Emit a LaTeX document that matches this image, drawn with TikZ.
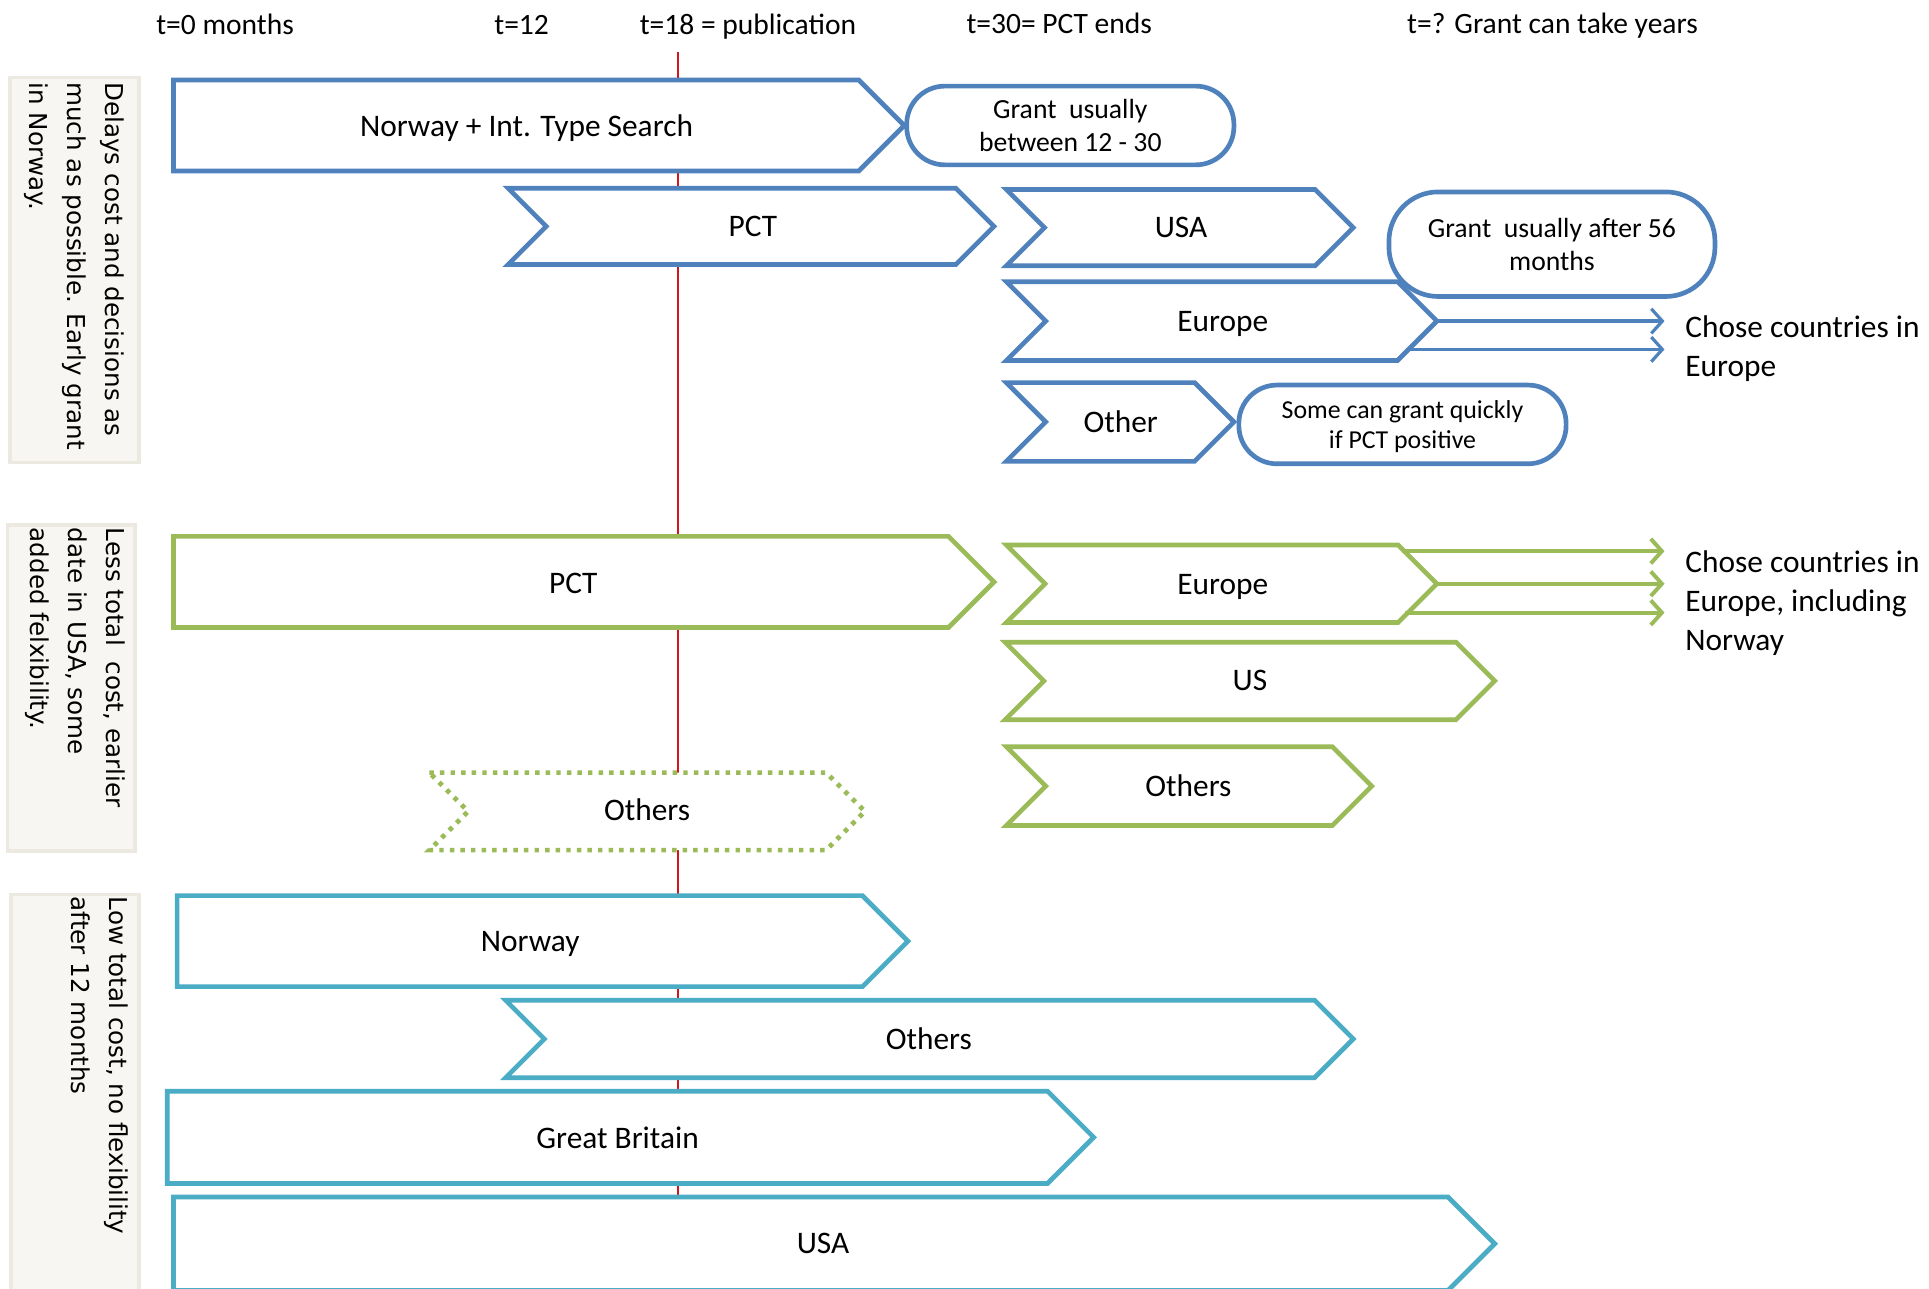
\documentclass[tikz,border=0pt]{standalone}
\usepackage{fontspec}
\setmainfont{Carlito}
\newfontfamily\sidefont{DejaVu Sans}
\usetikzlibrary{arrows.meta}

\definecolor{pblue}{HTML}{4F81BD}
\definecolor{pgreen}{HTML}{9BBB59}
\definecolor{pteal}{HTML}{4BACC6}
\definecolor{pred}{HTML}{D0161E}
\definecolor{notefill}{HTML}{F7F6F2}
\definecolor{noteline}{HTML}{ECEAE0}

% pentagon arrow: style, left x, tip x, top y, bottom y
\newcommand{\homeplatepath}[5]{%
  \draw[#1] (#2,#4) -- ({#3-(#5-#4)/2},#4) -- (#3,{(#4+#5)/2})
    -- ({#3-(#5-#4)/2},#5) -- (#2,#5) -- cycle;}
% chevron: style, left x, tip x, top y, bottom y
\newcommand{\chevronpath}[5]{%
  \draw[#1] (#2,#4) -- ({#3-(#5-#4)/2},#4) -- (#3,{(#4+#5)/2})
    -- ({#3-(#5-#4)/2},#5) -- (#2,#5) -- ({#2+(#5-#4)/2},{(#4+#5)/2}) -- cycle;}

\begin{document}
\begin{tikzpicture}[x=1pt,y=-1pt,
  every node/.style={inner sep=0pt, outer sep=0pt},
  hdr/.style={font=\fontsize{24}{29}\selectfont, anchor=base},
  boxtxt/.style={font=\fontsize{25.5}{31}\selectfont, text height=16.4pt, text depth=0pt, anchor=center},
  shp/.style={line width=3.8pt, fill=white},
  blueshape/.style={shp, draw=pblue},
  greenshape/.style={shp, draw=pgreen},
  tealshape/.style={shp, draw=pteal},
  dottedshape/.style={line width=3.8pt, draw=pgreen, fill=white, dash pattern=on 3.6pt off 5pt},
  grant/.style={draw=pblue, line width=3.8pt, fill=white, align=center, text depth=0pt,
    font=\fontsize{22.5}{27}\selectfont},
  note/.style={fill=notefill, draw=noteline, line width=3pt},
  notetxt/.style={font=\sidefont\fontsize{20}{31}\selectfont, rotate=-90, anchor=north west, align=left},
  side/.style={font=\fontsize{25.5}{31.5}\selectfont, align=left, anchor=north west},
  barrow/.style={draw=pblue, line width=2.6pt, -{Straight Barb[length=9pt,width=20pt]}},
  garrow/.style={draw=pgreen, line width=3.2pt, -{Straight Barb[length=9pt,width=20pt]}},
]
\useasboundingbox (0,0) rectangle (1568,1047);

% strategy notes on the left
\draw[note] (8,63) rectangle (113,376);
\draw[note] (6,427) rectangle (110,692);
\draw[note] (9,727) rectangle (113,1060);
\node[notetxt] (note-a) at (101,67) {Delays cost and decisions as\\much as possible. Early grant\\in Norway.};
\node[notetxt] (note-b) at (102,429) {Less total\ \ cost, earlier\\date in USA, some\\added felxibility.};
\node[notetxt] (note-c) at (104,729) {Low total cost, no flexibility\\after 12 months};

% time axis labels
\node[hdr] (h0) at (183,28) {t=0 months};
\node[hdr] (h12) at (424,28) {t=12};
\node[hdr] (h18) at (608,28) {t=18 = publication};
\node[hdr] (h30) at (861,27) {t=30= PCT ends};
\node[hdr] (hx) at (1262,27) {t=? Grant can take years};

% publication line
\coordinate (pub-top) at (551,42);
\coordinate (pub-bot) at (551,973);
\draw[pred, line width=1.3pt] (pub-top) -- (pub-bot);

% ---------- route 1 (blue) ----------
\homeplatepath{blueshape}{141}{735}{65}{139}
\node[boxtxt] (b-nis) at (428,103) {Norway + Int. Type Search};
\node[grant, minimum width=266pt, minimum height=64pt, rounded corners=31pt] (b-g1) at (870,102)
  {Grant\ \ usually\\between 12 - 30};
\chevronpath{blueshape}{413}{808}{153}{215}
\node[boxtxt] (b-pct) at (612,184) {PCT};
\chevronpath{blueshape}{818}{1100}{154}{216}
\node[boxtxt] (b-usa) at (960,185) {USA};
\chevronpath{blueshape}{818}{1168}{229}{293}
\node[boxtxt] (b-eu) at (994,261) {Europe};
\node[grant, minimum width=265pt, minimum height=85pt, rounded corners=40pt] (b-g2) at (1261.5,198.5)
  {Grant\ \ usually after 56\\months};
\chevronpath{blueshape}{818}{1003}{311}{375}
\node[boxtxt] (b-oth) at (911,343) {Other};
\node[grant, minimum width=266pt, minimum height=64pt, rounded corners=31pt,
  font=\fontsize{21}{25}\selectfont] (b-g3) at (1140,345)
  {Some can grant quickly\\if PCT positive};

\coordinate (b-eu-tip) at (1168,261);
\coordinate (b-eu-low) at (1143,284);
\coordinate (b-end1) at (1353,261);
\coordinate (b-end2) at (1353,284);
\draw[barrow] (b-eu-tip) -- (b-end1);
\draw[barrow] (b-eu-low) -- (b-end2);
\node[side] (b-lab) at (1370,257) {Chose countries in\\Europe};

% ---------- route 2 (green) ----------
\homeplatepath{greenshape}{141}{808}{436}{510}
\node[boxtxt] (g-pct) at (466,474) {PCT};
\chevronpath{greenshape}{818}{1168}{443}{506}
\node[boxtxt] (g-eu) at (994,475) {Europe};
\chevronpath{greenshape}{817}{1215}{522}{585}
\node[boxtxt] (g-us) at (1016,553) {US};
\chevronpath{greenshape}{818}{1115}{607}{671}
\node[boxtxt] (g-oth) at (966,639) {Others};
\chevronpath{dottedshape}{349}{703}{628}{691}
\node[boxtxt] (g-oth2) at (526,659) {Others};

\coordinate (g-eu-up) at (1140,448);
\coordinate (g-eu-tip) at (1168,474.5);
\coordinate (g-eu-low) at (1142,498);
\coordinate (g-end1) at (1353,448);
\coordinate (g-end2) at (1353,474.5);
\coordinate (g-end3) at (1353,498);
\draw[garrow] (g-eu-up) -- (g-end1);
\draw[garrow] (g-eu-tip) -- (g-end2);
\draw[garrow] (g-eu-low) -- (g-end3);
\node[side] (g-lab) at (1370,448) {Chose countries in\\Europe, including\\Norway};

% ---------- route 3 (teal) ----------
\homeplatepath{tealshape}{144}{738}{728}{802}
\node[boxtxt] (t-nor) at (431,765) {Norway};
\chevronpath{tealshape}{411}{1100}{813}{876}
\node[boxtxt] (t-oth) at (755,845) {Others};
\homeplatepath{tealshape}{136}{889}{887}{962}
\node[boxtxt] (t-gb) at (502,925) {Great Britain};
\homeplatepath{tealshape}{141}{1215}{973}{1049}
\node[boxtxt] (t-usa) at (669,1011) {USA};

\end{tikzpicture}
\end{document}
